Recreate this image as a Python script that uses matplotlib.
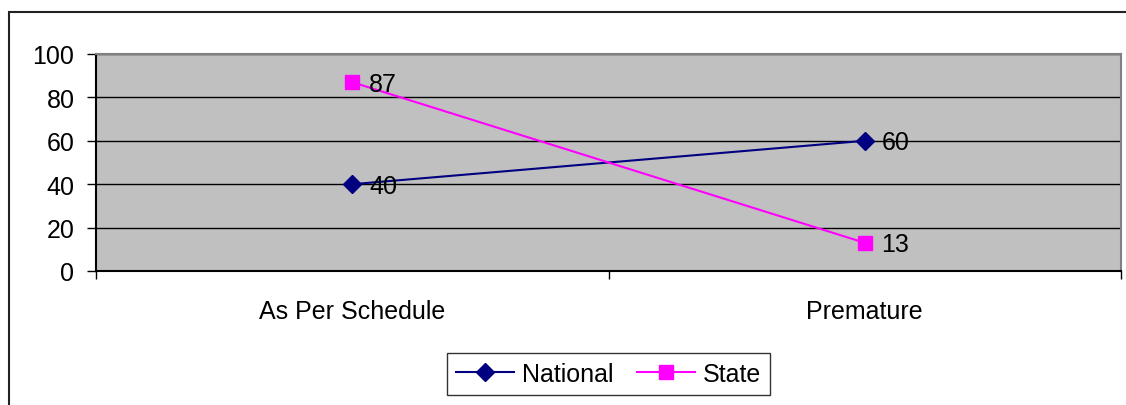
import numpy as np
import matplotlib
matplotlib.use("Agg")
import matplotlib.pyplot as plt
from matplotlib.patches import Rectangle

categories = ["As Per Schedule", "Premature"]
national = [40, 60]
state = [87, 13]
y_ticks = [0, 20, 40, 60, 80, 100]

plt.rcParams['font.family'] = ['Liberation Sans', 'DejaVu Sans']
FS = 18

W, H = 1126, 406
fig = plt.figure(figsize=(W / 100, H / 100), dpi=100)
fig.patch.set_facecolor('white')

# chart border, runs off the right and bottom edges
fig.add_artist(Rectangle((9 / W, -0.2), 1.2, 1.2 - 13 / H, transform=fig.transFigure,
                         fill=False, edgecolor='#222222', linewidth=1.5))

ax = fig.add_axes([96 / W, 1 - 272 / H, (1121 - 96) / W, (272 - 55) / H])
ax.set_facecolor('#C0C0C0')

x = np.arange(len(categories)) + 0.5
ax.plot(x, national, color='#000080', marker='D', markersize=9, lw=1.5, label='National', zorder=3)
ax.plot(x, state, color='#FF00FF', marker='s', markersize=9.5, lw=1.5, label='State', zorder=4)

for xi, v in zip(x, national):
    ax.annotate(str(v), (xi, v), xytext=(12, -1), textcoords='offset points',
                va='center', ha='left', fontsize=FS, zorder=5)
for xi, v in zip(x, state):
    ax.annotate(str(v), (xi, v), xytext=(12, -1), textcoords='offset points',
                va='center', ha='left', fontsize=FS, zorder=5)

ax.set_xlim(0, 2)
ax.set_ylim(0, 100)
ax.set_yticks(y_ticks)
ax.tick_params(axis='y', length=6.5, width=1, pad=9, labelsize=FS, direction='out')
ax.yaxis.grid(True, color='black', lw=1)

ax.set_xticks([0, 1, 2])
ax.set_xticklabels([])
ax.tick_params(axis='x', which='major', length=6, width=1, direction='out')
ax.set_xticks(x, minor=True)
ax.set_xticklabels(categories, minor=True)
ax.tick_params(axis='x', which='minor', length=0, pad=20, labelsize=FS)

ax.spines['left'].set_color('black')
ax.spines['bottom'].set_color('black')
ax.spines['top'].set_color('#808080')
ax.spines['right'].set_color('#808080')
for s in ax.spines.values():
    s.set_linewidth(1.5)

leg = fig.legend(loc='center', bbox_to_anchor=(608.5 / W, 1 - 375 / H), ncol=2,
                 fontsize=FS, frameon=True, fancybox=False, edgecolor='black',
                 handlelength=2.3, handletextpad=0.33, columnspacing=0.95,
                 borderpad=0.35)
leg.get_frame().set_linewidth(1)

fig.savefig('out.png', dpi=100)
